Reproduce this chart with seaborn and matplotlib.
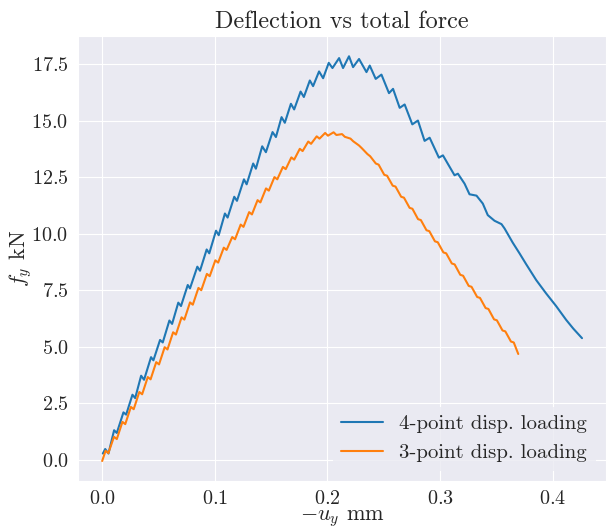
import numpy as np
import matplotlib
matplotlib.use("Agg")
from matplotlib import pyplot as plt
import seaborn as sns

# 4-point displacement loading: deflection (mm) and total force (kN)
u_four = [0.0006, 0.0027, 0.0056, 0.0106, 0.0130, 0.0189, 0.0213, 0.0269, 0.0293,
          0.0346, 0.0372, 0.0434, 0.0455, 0.0514, 0.0538, 0.0597, 0.0621, 0.0676,
          0.0700, 0.0760, 0.0780, 0.0845, 0.0869, 0.0928, 0.0951, 0.1011, 0.1035,
          0.1090, 0.1114, 0.1173, 0.1197, 0.1259, 0.1283, 0.1341, 0.1365, 0.1421,
          0.1454, 0.1513, 0.1543, 0.1593, 0.1622, 0.1676, 0.1705, 0.1762, 0.1791,
          0.1844, 0.1873, 0.1926, 0.1962, 0.2012, 0.2045, 0.2104, 0.2139, 0.2192,
          0.2228, 0.2281, 0.2347, 0.2376, 0.2429, 0.2480, 0.2547, 0.2583, 0.2642,
          0.2686, 0.2754, 0.2804, 0.2863, 0.2908, 0.2990, 0.3026, 0.3129, 0.3159,
          0.3218, 0.3262, 0.3324, 0.3380, 0.3424, 0.3484, 0.3546, 0.3573, 0.3646,
          0.3706, 0.3765, 0.3854, 0.3942, 0.4031, 0.4120, 0.4184, 0.4261]
f_four = [0.28, 0.48, 0.28, 1.31, 1.19, 2.10, 2.00, 2.88, 2.73,
          3.72, 3.54, 4.54, 4.40, 5.30, 5.19, 6.16, 6.01, 6.95,
          6.80, 7.73, 7.58, 8.54, 8.36, 9.30, 9.13, 10.13, 9.93,
          10.89, 10.71, 11.63, 11.45, 12.40, 12.18, 13.10, 12.87, 13.86,
          13.60, 14.49, 14.27, 15.15, 14.90, 15.74, 15.49, 16.28, 16.04,
          16.77, 16.52, 17.17, 16.87, 17.55, 17.32, 17.76, 17.32, 17.84,
          17.36, 17.72, 17.14, 17.43, 16.84, 17.03, 16.21, 16.40, 15.56,
          15.71, 14.83, 15.00, 14.10, 14.24, 13.36, 13.46, 12.58, 12.65,
          12.21, 11.74, 11.68, 11.33, 10.82, 10.57, 10.42, 10.23, 9.60,
          9.13, 8.65, 7.95, 7.36, 6.80, 6.19, 5.80, 5.38]

# 3-point displacement loading
u_three = [0.0, 0.003, 0.0055, 0.0105, 0.013, 0.018, 0.0205, 0.0255, 0.028,
           0.033, 0.0355, 0.0405, 0.043, 0.048, 0.0505, 0.0555, 0.058, 0.063,
           0.0655, 0.0705, 0.073, 0.078, 0.0805, 0.0855, 0.088, 0.093, 0.0955,
           0.1005, 0.103, 0.108, 0.1105, 0.1155, 0.118, 0.123, 0.1255, 0.1305,
           0.133, 0.138, 0.1405, 0.1455, 0.148, 0.153, 0.1555, 0.1605, 0.163,
           0.168, 0.1705, 0.1755, 0.178, 0.183, 0.1855, 0.1905, 0.193, 0.198,
           0.2005, 0.2055, 0.208, 0.213, 0.2155, 0.2205, 0.223, 0.228, 0.2305,
           0.2355, 0.238, 0.243, 0.2455, 0.2505, 0.253, 0.258, 0.2605, 0.2655,
           0.268, 0.273, 0.2755, 0.2805, 0.283, 0.288, 0.2905, 0.2955, 0.298,
           0.303, 0.3055, 0.3105, 0.313, 0.318, 0.3205, 0.3255, 0.328, 0.333,
           0.3355, 0.3405, 0.343, 0.348, 0.3505, 0.3555, 0.358, 0.363, 0.3655,
           0.3695]
f_three = [-0.05, 0.40, 0.30, 1.02, 0.92, 1.68, 1.58, 2.34, 2.24,
           3.00, 2.90, 3.66, 3.56, 4.32, 4.22, 4.98, 4.88, 5.64,
           5.54, 6.30, 6.20, 6.96, 6.86, 7.60, 7.50, 8.22, 8.12,
           8.82, 8.72, 9.38, 9.28, 9.85, 9.75, 10.40, 10.30, 10.95,
           10.85, 11.48, 11.38, 12.00, 11.90, 12.50, 12.40, 12.95, 12.85,
           13.37, 13.27, 13.75, 13.65, 14.07, 13.97, 14.30, 14.20, 14.45,
           14.33, 14.48, 14.36, 14.40, 14.28, 14.20, 14.08, 13.90, 13.78,
           13.52, 13.42, 13.10, 13.05, 12.60, 12.56, 12.12, 12.08, 11.63,
           11.59, 11.14, 11.10, 10.64, 10.60, 10.15, 10.11, 9.66, 9.62,
           9.17, 9.13, 8.68, 8.64, 8.18, 8.14, 7.69, 7.65, 7.20,
           7.16, 6.71, 6.67, 6.21, 6.17, 5.72, 5.68, 5.23, 5.19,
           4.68]

sns.set_style("darkgrid")
plt.rcParams["font.family"] = "serif"
plt.rcParams["font.serif"] = ["cmr10", "DejaVu Serif"]
plt.rcParams["mathtext.fontset"] = "cm"
plt.rcParams["axes.formatter.use_mathtext"] = True
plt.rcParams["axes.unicode_minus"] = False

fig, ax = plt.subplots(figsize=(6.06, 5.30), dpi=100)
fig.subplots_adjust(left=0.129, right=1.0, bottom=0.092, top=0.932)

sns.lineplot(x=u_four, y=f_four, ax=ax, color="C0", sort=False,
             estimator=None, label="4-point disp. loading")
sns.lineplot(x=u_three, y=f_three, ax=ax, color="C1", sort=False,
             estimator=None, label="3-point disp. loading")

ax.set_yticks(np.arange(0, 17.6, 2.5))
ax.set_xticks([0.0, 0.1, 0.2, 0.3, 0.4])
ax.tick_params(labelsize=14.5)
ax.tick_params(axis="x", pad=3)
ax.set_xlabel(r"$-u_y$ mm", fontsize=16, labelpad=0)
ax.set_ylabel(r"$f_y$ kN", fontsize=16, labelpad=-2)
ax.set_title("Deflection vs total force", fontsize=17.5)
leg = ax.legend(loc="lower right", fontsize=15, facecolor="#EAEAF2",
                edgecolor="none", framealpha=0.8)

plt.savefig("out.png", dpi=100)
